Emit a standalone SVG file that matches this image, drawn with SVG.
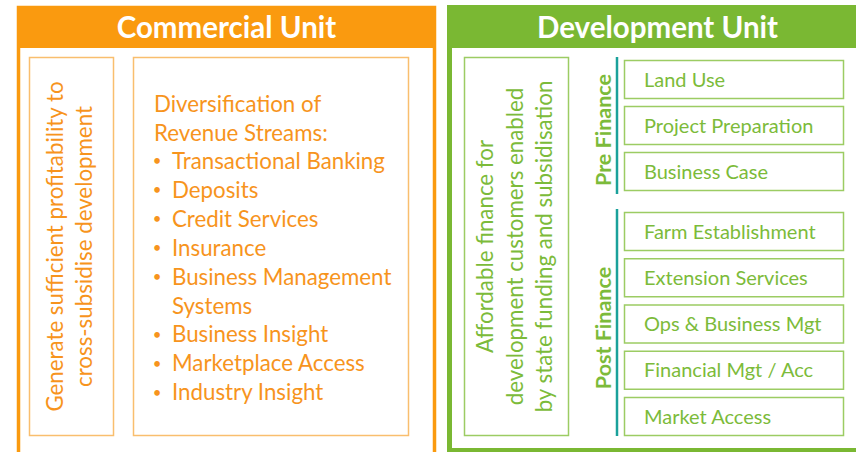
<svg xmlns="http://www.w3.org/2000/svg" width="856" height="452" viewBox="0 0 856 452">
  <style>
    .hdr { font-family: Lato, "Open Sans", "Liberation Sans", sans-serif; font-weight: bold; font-size: 29.5px; fill: #ffffff; text-anchor: middle; }
    .oT { font-family: Lato, "Open Sans", "Liberation Sans", sans-serif; font-size: 22.3px; fill: #F7941D; }
    .gT { font-family: Lato, "Open Sans", "Liberation Sans", sans-serif; font-size: 22.3px; fill: #7CBB3A; }
    .bul { font-family: Lato, "Open Sans", "Liberation Sans", sans-serif; font-size: 15px; fill: #F7941D; text-anchor: middle; }
    .bxT { font-family: Lato, "Open Sans", "Liberation Sans", sans-serif; font-size: 20px; fill: #7CBB3A; }
    .phase { font-family: Lato, "Open Sans", "Liberation Sans", sans-serif; font-weight: bold; font-size: 21.5px; fill: #7CBB3A; text-anchor: middle; }
    .mid { text-anchor: middle; }
    .oBox { fill: #ffffff; stroke: #F9BE6E; stroke-width: 1.5; }
    .gBox { fill: #ffffff; stroke: #9CCC63; stroke-width: 1.5; }
    .rail { stroke: #1AA19B; stroke-width: 2.5; }
  </style>

  <!-- Commercial unit panel -->
  <g id="commercial-unit">
    <rect x="18.5" y="7.5" width="416" height="470" fill="#ffffff" stroke="#FA9A0F" stroke-width="3.5"/>
    <rect x="17" y="6" width="419" height="42" fill="#FA9A0F"/>
    <text class="hdr" x="226.5" y="37.5">Commercial Unit</text>
  </g>

  <g id="commercial-goal">
    <rect class="oBox" x="29.5" y="57.5" width="84" height="378"/>
    <g transform="translate(71.5,246.5) rotate(-90)">
      <text class="oT mid" x="0" y="-8.5">Generate sufficient profitability to</text>
      <text class="oT mid" x="0" y="20.5">cross-subsidise development</text>
    </g>
  </g>

  <g id="revenue-streams">
    <rect class="oBox" x="133.5" y="57.5" width="275" height="378"/>
    <text class="oT" x="154" y="111.5">Diversification of</text>
    <text class="oT" x="154" y="140.5">Revenue Streams:</text>
    <g class="bul">
      <text x="157" y="166">•</text>
      <text x="157" y="195">•</text>
      <text x="157" y="224">•</text>
      <text x="157" y="253">•</text>
      <text x="157" y="282">•</text>
      <text x="157" y="339.5">•</text>
      <text x="157" y="368.5">•</text>
      <text x="157" y="397.5">•</text>
    </g>
    <g class="oT">
      <text x="172" y="168.5">Transactional Banking</text>
      <text x="172" y="197.5">Deposits</text>
      <text x="172" y="226.5">Credit Services</text>
      <text x="172" y="255.5">Insurance</text>
      <text x="172" y="284.5">Business Management</text>
      <text x="172" y="313.5">Systems</text>
      <text x="172" y="342">Business Insight</text>
      <text x="172" y="371">Marketplace Access</text>
      <text x="172" y="400">Industry Insight</text>
    </g>
  </g>

  <!-- Development unit panel -->
  <g id="development-unit">
    <rect x="449.5" y="7.5" width="430" height="443" fill="#ffffff" stroke="#7AB833" stroke-width="5"/>
    <rect x="447" y="5" width="430" height="43" fill="#7AB833"/>
    <text class="hdr" x="657.5" y="37.5">Development Unit</text>
  </g>

  <g id="development-goal">
    <rect class="gBox" x="464.5" y="57.5" width="104" height="378"/>
    <g transform="translate(516,246.5) rotate(-90)">
      <text class="gT mid" x="0" y="-23">Affordable finance for</text>
      <text class="gT mid" x="0" y="7">development customers enabled</text>
      <text class="gT mid" x="0" y="36">by state funding and subsidisation</text>
    </g>
  </g>

  <!-- phase rails -->
  <g id="connectors">
    <line class="rail" x1="617" y1="57" x2="617" y2="194"/>
    <line class="rail" x1="617" y1="209" x2="617" y2="436"/>
  </g>

  <g id="pre-finance-label">
    <text class="phase" transform="translate(611,130) rotate(-90)" x="0" y="0">Pre Finance</text>
  </g>
  <g id="post-finance-label">
    <text class="phase" transform="translate(611,328) rotate(-90)" x="0" y="0">Post Finance</text>
  </g>

  <g id="land-use"><rect class="gBox" x="624.5" y="60.5" width="219" height="38"/><text class="bxT" x="644" y="86.5">Land Use</text></g>
  <g id="project-preparation"><rect class="gBox" x="624.5" y="106.5" width="219" height="38"/><text class="bxT" x="644" y="132.5">Project Preparation</text></g>
  <g id="business-case"><rect class="gBox" x="624.5" y="152.5" width="219" height="38"/><text class="bxT" x="644" y="178.5">Business Case</text></g>

  <g id="farm-establishment"><rect class="gBox" x="624.5" y="212.5" width="219" height="38"/><text class="bxT" x="644" y="238.5">Farm Establishment</text></g>
  <g id="extension-services"><rect class="gBox" x="624.5" y="258.75" width="219" height="38"/><text class="bxT" x="644" y="284.75">Extension Services</text></g>
  <g id="ops-business-mgt"><rect class="gBox" x="624.5" y="305" width="219" height="38"/><text class="bxT" x="644" y="331">Ops &amp; Business Mgt</text></g>
  <g id="financial-mgt"><rect class="gBox" x="624.5" y="351.25" width="219" height="38"/><text class="bxT" x="644" y="377.25">Financial Mgt / Acc</text></g>
  <g id="market-access"><rect class="gBox" x="624.5" y="397.5" width="219" height="38"/><text class="bxT" x="644" y="423.5">Market Access</text></g>
</svg>
